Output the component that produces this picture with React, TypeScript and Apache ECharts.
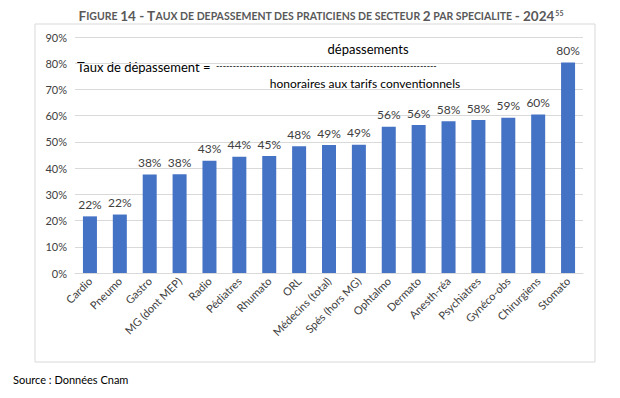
import React, { useEffect, useRef } from "react";
import * as echarts from "echarts";

const categories = [
  "Cardio", "Pneumo", "Gastro", "MG (dont MEP)", "Radio", "Pédiatres", "Rhumato", "ORL",
  "Médecins (total)", "Spés (hors MG)", "Ophtalmo", "Dermato", "Anesth-réa", "Psychiatres",
  "Gynéco-obs", "Chirurgiens", "Stomato",
];
const values = [21.6, 22.3, 37.6, 37.7, 42.8, 44.3, 44.6, 48.3, 48.8, 48.9, 55.8, 56.4, 57.9, 58.3, 59.2, 60.4, 80.3];
const yTicks = [0, 10, 20, 30, 40, 50, 60, 70, 80, 90];

const FONT = "Lato, 'Open Sans', sans-serif";

export default function App() {
  const ref = useRef<HTMLDivElement>(null);
  useEffect(() => {
    const chart = echarts.init(ref.current!, null, { renderer: "svg" });
    chart.setOption({
      animation: false,
      backgroundColor: "#ffffff",
      textStyle: { fontFamily: FONT },
      title: {
        text: "{b|F}{s|IGURE }{b|14 - T}{s|AUX DE DEPASSEMENT DES PRATICIENS DE SECTEUR }{b|2}{s| PAR SPECIALITE }{b|- 2024}{sup|55}",
        left: 316,
        textAlign: "center",
        top: 4,
        textStyle: {
          rich: {
            b: { fontSize: 13.5, fontWeight: "bold", color: "#595959", fontFamily: FONT },
            s: { fontSize: 10.5, fontWeight: "bold", color: "#595959", fontFamily: FONT },
            sup: { fontSize: 7, fontWeight: "bold", color: "#595959", fontFamily: FONT, verticalAlign: "top", padding: [0, 0, 7, 1] },
          },
        },
      },
      grid: { left: 75, right: 37, top: 37, bottom: 125 },
      xAxis: {
        type: "category",
        data: categories,
        axisTick: { show: false },
        axisLine: { lineStyle: { color: "#d9d9d9" } },
        axisLabel: { rotate: 45, fontSize: 11, color: "#404040", margin: 6, interval: 0, fontFamily: FONT },
      },
      yAxis: {
        type: "value",
        min: 0,
        max: 90,
        interval: 10,
        axisLabel: {
          fontSize: 11,
          color: "#404040",
          margin: 8,
          fontFamily: FONT,
          formatter: (v: number) => (yTicks.includes(v) ? v + "%" : ""),
        },
        splitLine: { lineStyle: { color: "#d9d9d9" } },
        axisLine: { show: false },
        axisTick: { show: false },
      },
      series: [
        {
          type: "bar",
          data: values,
          barWidth: 14,
          itemStyle: { color: "#4472C4" },
          label: {
            show: true,
            position: "top",
            distance: 6,
            fontSize: 12,
            color: "#404040",
            fontFamily: FONT,
            formatter: (p: any) => Math.round(p.value) + "%",
          },
        },
      ],
      graphic: [
        {
          type: "rect",
          shape: { x: 35, y: 24, width: 560, height: 338 },
          style: { fill: "none", stroke: "#d9d9d9", lineWidth: 1 },
          silent: true,
        },
        {
          type: "text",
          x: 368,
          y: 49,
          style: { text: "dépassements", fontSize: 13, fill: "#000", fontFamily: FONT, textAlign: "center", textVerticalAlign: "middle" },
        },
        {
          type: "text",
          x: 77,
          y: 67,
          style: { text: "Taux de dépassement =", fontSize: 13, fill: "#000", fontFamily: FONT, textAlign: "left", textVerticalAlign: "middle", backgroundColor: "#fff", padding: [1, 2, 1, 0] },
        },
        {
          type: "text",
          x: 216,
          y: 65,
          style: { text: "-".repeat(66), fontSize: 9, fill: "#000", fontFamily: FONT, textAlign: "left", textVerticalAlign: "middle", backgroundColor: "#fff" },
        },
        {
          type: "text",
          x: 365,
          y: 83,
          style: { text: "honoraires aux tarifs conventionnels", fontSize: 12, fill: "#000", fontFamily: FONT, textAlign: "center", textVerticalAlign: "middle" },
        },
        {
          type: "text",
          x: 13,
          y: 379,
          style: { text: "Source : Données Cnam", fontSize: 11, fill: "#000", fontFamily: FONT, textAlign: "left", textVerticalAlign: "middle" },
        },
      ],
    });
    return () => chart.dispose();
  }, []);
  return <div ref={ref} style={{ position: "fixed", left: 0, top: 0, width: 620, height: 398 }} />;
}
